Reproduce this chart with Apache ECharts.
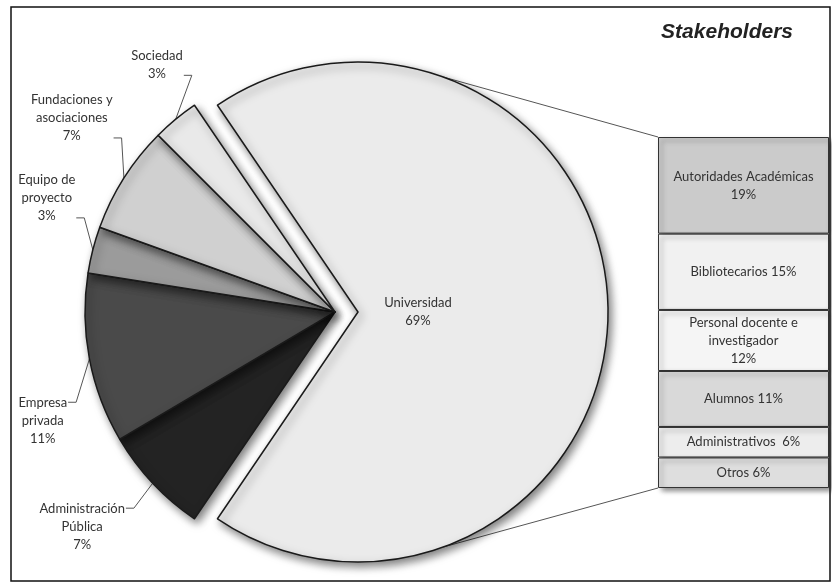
<!DOCTYPE html>
<html><head><meta charset="utf-8">
<script src="https://cdn.jsdelivr.net/npm/echarts@6/dist/echarts.min.js"></script>
<style>html,body{margin:0;padding:0;background:#fff}#c{width:832px;height:583px}</style>
</head><body><div id="c"></div>
<script>
// ---- data ----
const pieNames = ['Universidad', 'Administración\nPública', 'Empresa\nprivada', 'Equipo de\nproyecto', 'Fundaciones y\nasociaciones', 'Sociedad'];
const pieValues = [69, 7, 11, 3, 7, 3];
const barNames = ['Autoridades Académicas', 'Bibliotecarios', 'Personal docente e\ninvestigador', 'Alumnos', 'Administrativos', 'Otros'];
const barValues = [19, 15, 12, 11, 6, 6];
const barSeparators = ['\n', ' ', '\n', ' ', '  ', ' '];
const titleText = 'Stakeholders';

// ---- styles / layout ----
const pieColors = ['#ebebeb', '#232323', '#4a4a4a', '#9b9b9b', '#d0d0d0', '#e9e9e9'];
const barColors = ['#cbcbcb', '#f1f1f1', '#f5f5f5', '#d9d9d9', '#ededed', '#dedede'];
const cx = 335, cy = 312, R = 250, explode = 23;
// label anchors in polar form around pie centre: [angle deg, distance px]
const labelPlace = [null, [220.4, 332], [200.5, 312], [158.4, 310], [143.6, 327], [125.7, 305]];
const univLabelShift = 60;
const connectorAngle = 70;
const gridBox = {left: 658, top: 137, width: 171, height: 351};
const FONT = 'Lato';

const total = pieValues.reduce((a, b) => a + b, 0);
const startAngle = pieValues[0] / total * 180;
const mids = [];
{
  let a = startAngle;
  pieValues.forEach(v => { const s = v / total * 360; mids.push(a - s / 2); a -= s; });
}
const rad = d => d * Math.PI / 180;
const ex = cx + explode * Math.cos(rad(mids[0]));
const ey = cy - explode * Math.sin(rad(mids[0]));

const chart = echarts.init(document.getElementById('c'));
const barTotal = barValues.reduce((a, b) => a + b, 0);
const order = barNames.map((_, i) => i).reverse(); // bottom -> top

const barSeries = order.map((i, k) => ({
  type: 'bar', stack: 's', name: barNames[i], data: [barValues[i]], barWidth: '100%',
  z: 10 - k, silent: true,
  itemStyle: {color: barColors[i], borderColor: '#333', borderWidth: 1,
    shadowBlur: 5, shadowColor: 'rgba(0,0,0,0.45)', shadowOffsetX: 3, shadowOffsetY: 3},
  label: {show: true, position: 'inside', formatter: barNames[i] + barSeparators[i] + '{c}%',
    color: '#333', fontFamily: FONT, fontSize: 13, lineHeight: 18}
}));

const sliceStyle = {borderColor: '#1a1a1a', borderWidth: 1.5,
  shadowBlur: 8, shadowOffsetX: 3, shadowOffsetY: 4, shadowColor: 'rgba(0,0,0,0.5)'};
const hidden = {itemStyle: {color: 'rgba(0,0,0,0)', borderWidth: 0, shadowBlur: 0, shadowOffsetX: 0, shadowOffsetY: 0, shadowColor: 'rgba(0,0,0,0)'},
  label: {show: false}, labelLine: {show: false}};

// exploded slice (Universidad) drawn around its shifted centre
const pieExploded = {
  type: 'pie', center: [ex, ey], radius: R, startAngle: startAngle, clockwise: true,
  avoidLabelOverlap: false, silent: true, z: 2,
  data: pieNames.map((n, i) => Object.assign({name: n, value: pieValues[i]},
    i === 0 ? {itemStyle: {color: pieColors[i]}, labelLine: {show: false}} : hidden)),
  itemStyle: sliceStyle,
  label: {show: true, position: 'inside', formatter: '{b}\n{c}%', fontFamily: FONT, fontSize: 13, color: '#333', lineHeight: 18},
  labelLayout: function (p) {
    return {x: ex + univLabelShift, y: ey, align: 'center', verticalAlign: 'middle'};
  }
};
// remaining slices
const pieRest = {
  type: 'pie', center: [cx, cy], radius: R, startAngle: startAngle, clockwise: true,
  avoidLabelOverlap: false, silent: true, z: 3,
  data: pieNames.map((n, i) => Object.assign({name: n, value: pieValues[i]},
    i === 0 ? hidden : {itemStyle: {color: pieColors[i]}})),
  itemStyle: sliceStyle,
  label: {formatter: '{b}\n{c}%', fontFamily: FONT, fontSize: 13, color: '#333', lineHeight: 18},
  labelLine: {show: true, lineStyle: {color: '#555', width: 1}},
  labelLayout: function (p) {
    const i = p.dataIndex;
    if (i === 0) return {};
    const a = labelPlace[i][0], d = labelPlace[i][1];
    const lx = cx + d * Math.cos(rad(a)), ly = cy - d * Math.sin(rad(a));
    const w = p.labelRect.width, h = p.labelRect.height;
    const p0 = [cx + R * Math.cos(rad(mids[i])), cy - R * Math.sin(rad(mids[i]))];
    const ay = Math.max(ly - h / 2 + 8, Math.min(ly + h / 2 - 7, p0[1]));
    const p2 = [lx + w / 2 + 1, ay], p1 = [lx + w / 2 + 9, ay];
    return {x: lx, y: ly, align: 'center', verticalAlign: 'middle', labelLinePoints: [p0, p1, p2]};
  }
};

const option = {
  animation: false,
  title: {text: titleText, right: 34, top: 17,
    textStyle: {fontFamily: 'Liberation Sans', fontSize: 21, fontWeight: 'bold', fontStyle: 'italic', color: '#222'}},
  grid: gridBox,
  xAxis: {type: 'category', data: [''], show: false},
  yAxis: {type: 'value', min: 0, max: barTotal, show: false},
  series: [pieExploded, pieRest].concat(barSeries)
};
chart.setOption(option);

// connectors from exploded slice to the bar, frame
const barTopPx = chart.convertToPixel({gridIndex: 0}, [0, barTotal]);
const barBotPx = chart.convertToPixel({gridIndex: 0}, [0, 0]);
const q1 = [ex + R * Math.cos(rad(connectorAngle)), ey - R * Math.sin(rad(connectorAngle))];
const q2 = [ex + R * Math.cos(rad(-connectorAngle)), ey - R * Math.sin(rad(-connectorAngle))];
chart.setOption({graphic: [
  {type: 'line', shape: {x1: q1[0], y1: q1[1], x2: gridBox.left, y2: barTopPx[1]}, style: {stroke: '#555', lineWidth: 1}, z: 0},
  {type: 'line', shape: {x1: q2[0], y1: q2[1], x2: gridBox.left, y2: barBotPx[1]}, style: {stroke: '#555', lineWidth: 1}, z: 0},
  {type: 'rect', shape: {x: 11, y: 7, width: 819, height: 574}, style: {fill: 'none', stroke: '#111', lineWidth: 1.5}, z: 100}
]});
</script></body></html>
